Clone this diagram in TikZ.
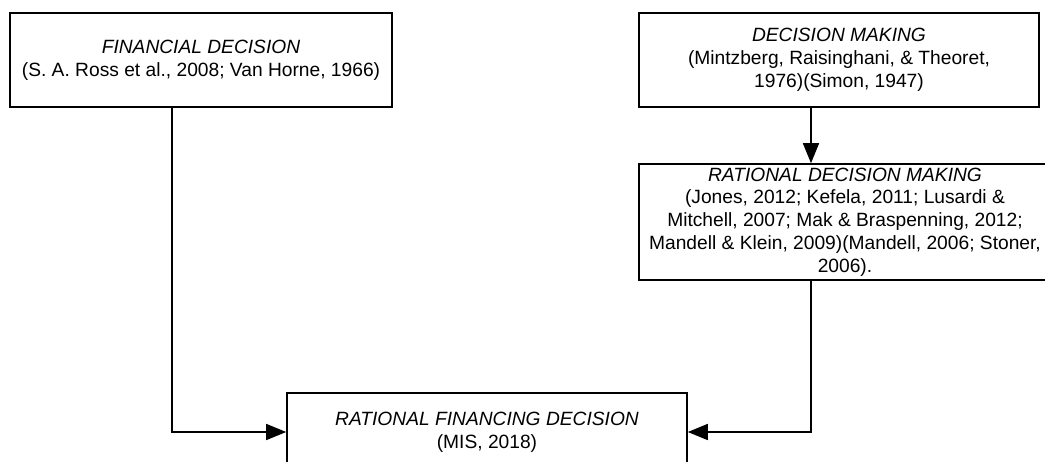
\documentclass[tikz,border=0pt]{standalone}
\usepackage{fontspec}
\setmainfont{Liberation Sans}
\usetikzlibrary{arrows.meta}

\begin{document}
\begin{tikzpicture}[x=0.5pt, y=-0.5pt, line width=0.8pt,
    font=\fontsize{9.6}{11.4}\selectfont,
    conceptbox/.style={draw, rectangle, inner sep=0pt, align=center},
    flow/.style={-{Triangle[length=10pt, width=8pt]}}]
\useasboundingbox (0,0) rectangle (1045,461);
\clip (0,0) rectangle (1045,461);

\node[conceptbox, minimum width=191pt, minimum height=47pt] (findec) at (201,60)
  {\textit{FINANCIAL DECISION}\\(S. A. Ross et al., 2008; Van Horne, 1966)};
\node[conceptbox, minimum width=200pt, minimum height=47pt] (dmaking) at (839,60)
  {\textit{DECISION MAKING}\\(Mintzberg, Raisinghani, \& Theoret,\\1976)(Simon, 1947)};
\node[conceptbox, minimum width=206pt, minimum height=58pt] (ratdm) at (845,222)
  {\textit{RATIONAL DECISION MAKING}\\(Jones, 2012; Kefela, 2011; Lusardi \&\\
   Mitchell, 2007; Mak \& Braspenning, 2012;\\
   Mandell \& Klein, 2009)(Mandell, 2006; Stoner,\\2006).};
\node[conceptbox, minimum width=200pt, minimum height=39pt] (ratfin) at (487,432)
  {\textit{RATIONAL FINANCING DECISION}\\(MIS, 2018)};

% connectors
\draw[flow] ([xshift=-14.5pt]findec.south) |- (ratfin.west);
\draw[flow] ([xshift=-14pt]dmaking.south) -- ([xshift=-14pt]dmaking.south |- ratdm.north);
\draw[flow] ([xshift=-17pt]ratdm.south) |- (ratfin.east);
\end{tikzpicture}
\end{document}
